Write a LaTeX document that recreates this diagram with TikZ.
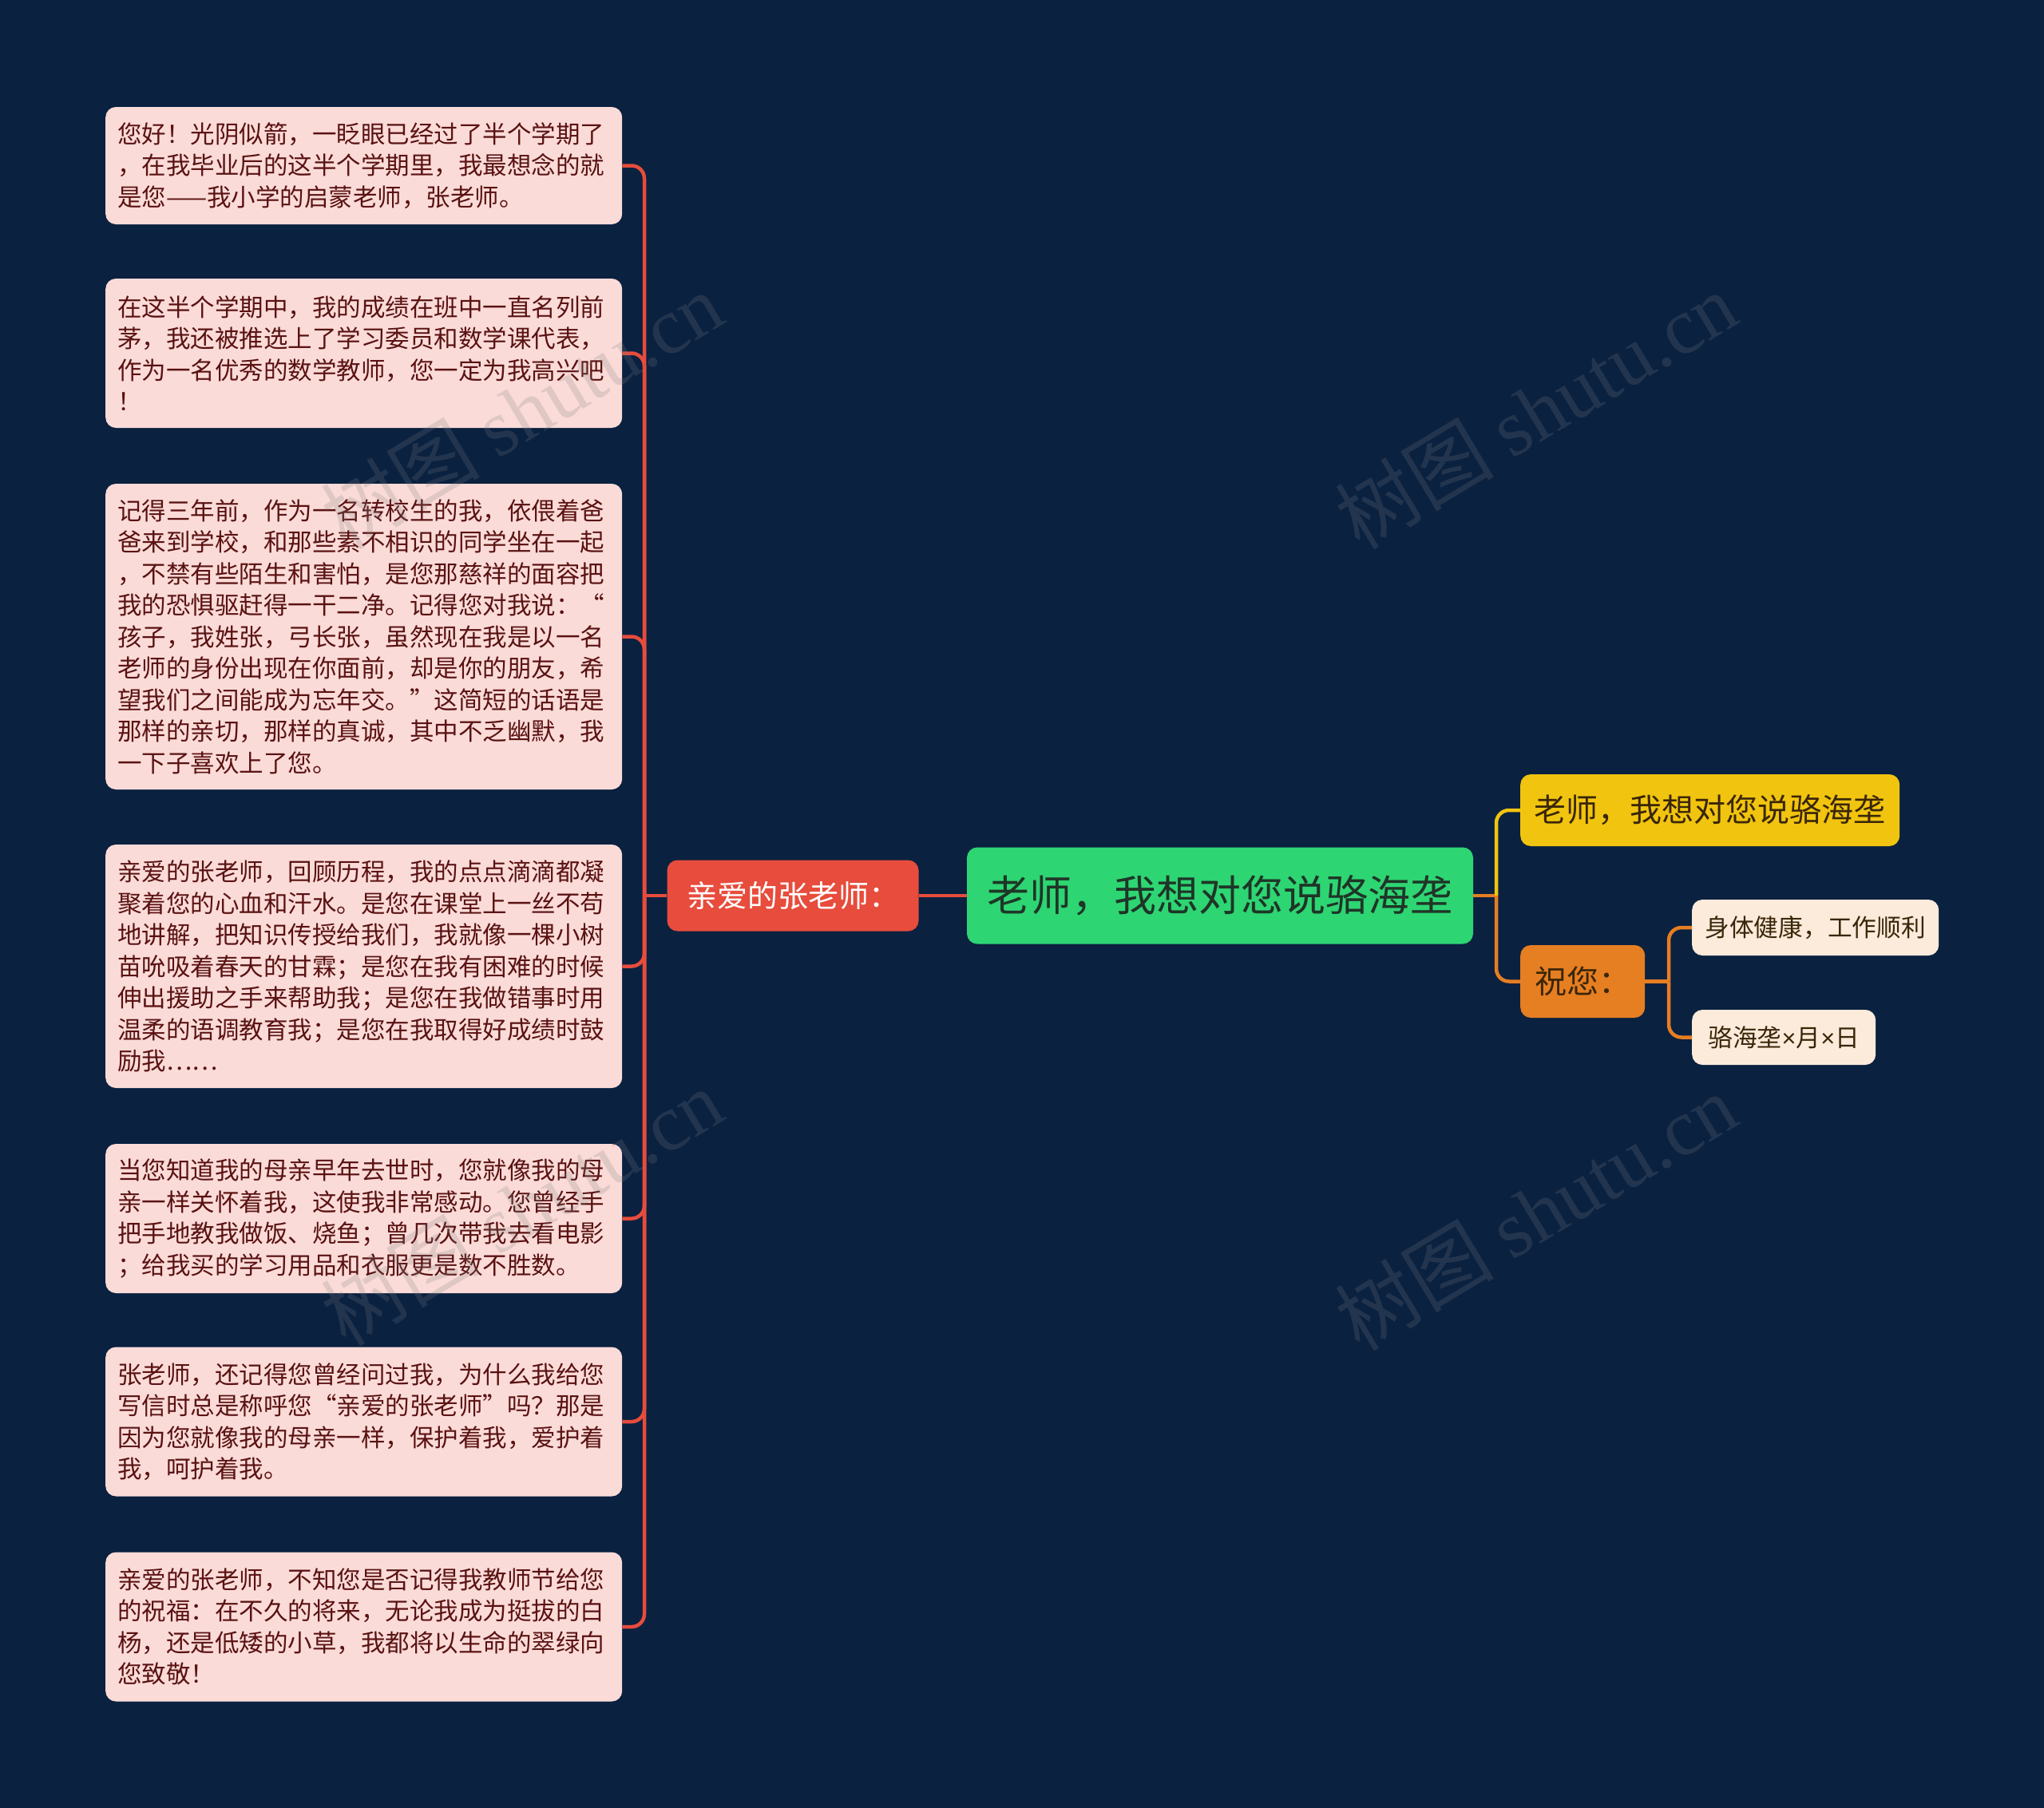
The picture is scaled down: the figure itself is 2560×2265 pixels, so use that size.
\documentclass[tikz,border=0pt]{standalone}
\usepackage{fontspec}
\setmainfont{Noto Sans CJK SC}
\newfontfamily\wmserif{Liberation Serif}
\newfontfamily\latsans{Liberation Sans}
\definecolor{bgc}{HTML}{0A2140}
\definecolor{redc}{HTML}{E74C3C}
\definecolor{greenc}{HTML}{2ED573}
\definecolor{yellowc}{HTML}{F1C40F}
\definecolor{orangec}{HTML}{E67E22}
\definecolor{pinkc}{HTML}{FADBD8}
\definecolor{peachc}{HTML}{FCEADB}
\definecolor{leaftext}{HTML}{5A1212}
\definecolor{darktext}{HTML}{1F3527}
\definecolor{browntext}{HTML}{3A2608}
\tikzset{
  leafbox/.style={draw=none, fill=pinkc, rounded corners=13pt, anchor=west,
    text width=617pt, inner xsep=15pt, inner ysep=0pt, align=left, text=leaftext,
    font=\fontsize{30.5}{39.5}\selectfont},
  redbox/.style={fill=redc, rounded corners=13pt, minimum width=315pt, minimum height=89pt,
    text=white, font=\fontsize{38}{44}\selectfont, inner sep=0pt},
  greenbox/.style={fill=greenc, rounded corners=13pt, minimum width=634pt, minimum height=121pt,
    text=darktext, font=\fontsize{53}{60}\selectfont, inner sep=0pt},
  yellowbox/.style={fill=yellowc, rounded corners=13pt, minimum height=90pt,
    text=browntext, font=\fontsize{40}{48}\selectfont, inner sep=0pt, anchor=west},
  subbox/.style={fill=peachc, rounded corners=13pt, minimum height=70pt,
    text=browntext, font=\fontsize{30.7}{36}\selectfont, inner sep=0pt, anchor=west},
  redline/.style={draw=redc, line width=4.5pt, rounded corners=16pt},
  yline/.style={draw=yellowc, line width=4.5pt, rounded corners=16pt},
  oline/.style={draw=orangec, line width=4.5pt, rounded corners=16pt},
  wmark/.style={text=gray, opacity=0.22, rotate=31, font=\fontsize{100}{110}\selectfont}
}
\begin{document}
\begin{tikzpicture}[x=1pt,y=-1pt]
\fill[bgc] (0,0) rectangle (2560,2265);
\useasboundingbox (0,0) rectangle (2560,2265);

% left leaf boxes
\node[leafbox, minimum height=147pt] (b1) at (132,207.5) {您好！光阴似箭，一眨眼已经过了半个学期了\\，在我毕业后的这半个学期里，我最想念的就\\是您——我小学的启蒙老师，张老师。};
\node[leafbox, minimum height=187pt] (b2) at (132,442.5) {在这半个学期中，我的成绩在班中一直名列前\\茅，我还被推选上了学习委员和数学课代表，\\作为一名优秀的数学教师，您一定为我高兴吧\\！};
\node[leafbox, minimum height=383pt] (b3) at (132,797.5) {记得三年前，作为一名转校生的我，依偎着爸\\爸来到学校，和那些素不相识的同学坐在一起\\，不禁有些陌生和害怕，是您那慈祥的面容把\\我的恐惧驱赶得一干二净。记得您对我说：“\\孩子，我姓张，弓长张，虽然现在我是以一名\\老师的身份出现在你面前，却是你的朋友，希\\望我们之间能成为忘年交。”这简短的话语是\\那样的亲切，那样的真诚，其中不乏幽默，我\\一下子喜欢上了您。};
\node[leafbox, minimum height=305pt] (b4) at (132,1210.5) {亲爱的张老师，回顾历程，我的点点滴滴都凝\\聚着您的心血和汗水。是您在课堂上一丝不苟\\地讲解，把知识传授给我们，我就像一棵小树\\苗吮吸着春天的甘霖；是您在我有困难的时候\\伸出援助之手来帮助我；是您在我做错事时用\\温柔的语调教育我；是您在我取得好成绩时鼓\\励我……};
\node[leafbox, minimum height=187pt] (b5) at (132,1526.5) {当您知道我的母亲早年去世时，您就像我的母\\亲一样关怀着我，这使我非常感动。您曾经手\\把手地教我做饭、烧鱼；曾几次带我去看电影\\；给我买的学习用品和衣服更是数不胜数。};
\node[leafbox, minimum height=187pt] (b6) at (132,1781) {张老师，还记得您曾经问过我，为什么我给您\\写信时总是称呼您“亲爱的张老师”吗？那是\\因为您就像我的母亲一样，保护着我，爱护着\\我，呵护着我。};
\node[leafbox, minimum height=187pt] (b7) at (132,2038) {亲爱的张老师，不知您是否记得我教师节给您\\的祝福：在不久的将来，无论我成为挺拔的白\\杨，还是低矮的小草，我都将以生命的翠绿向\\您致敬！};

% main nodes
\node[greenbox] (root) at (1528,1122) {老师，我想对您说骆海垄};
\node[redbox] (red) at (993,1122) {亲爱的张老师：};
\node[yellowbox, minimum width=475pt] (yel) at (1904,1015) {老师，我想对您说骆海垄};
\node[yellowbox, fill=orangec, minimum width=156pt, minimum height=91pt] (zhu) at (1904,1229.5) {祝您：};
\node[subbox, minimum width=309pt] (s1) at (2119,1162) {身体健康，工作顺利};
\node[subbox, minimum width=230pt, minimum height=69pt] (s2) at (2119,1299.5) {骆海垄{\latsans ×}月{\latsans ×}日};

% connectors
\coordinate (rs) at (807,1122);
\draw[redline] (root.west) -- (red.east);
\draw[redline] (red.west) -- (rs);
\foreach \b in {b1,b2,b3,b4,b5,b6,b7} {
  \draw[redline] (rs) |- (\b.east);
}
\coordinate (os) at (1874,1122);
\draw[oline] (root.east) -- (os);
\draw[yline] (os) |- (yel.west);
\draw[oline] (os) |- (zhu.west);
\coordinate (cs) at (2090,1229.5);
\draw[oline] (zhu.east) -- (cs);
\draw[oline] (cs) |- (s1.west);
\draw[oline] (cs) |- (s2.west);

% watermarks
\node[wmark] (w1) at (653,514) {树图 {\wmserif shutu.cn}};
\node[wmark] (w2) at (1923,514) {树图 {\wmserif shutu.cn}};
\node[wmark] (w3) at (653,1512) {树图 {\wmserif shutu.cn}};
\node[wmark] (w4) at (1923,1518) {树图 {\wmserif shutu.cn}};
\end{tikzpicture}
\end{document}
